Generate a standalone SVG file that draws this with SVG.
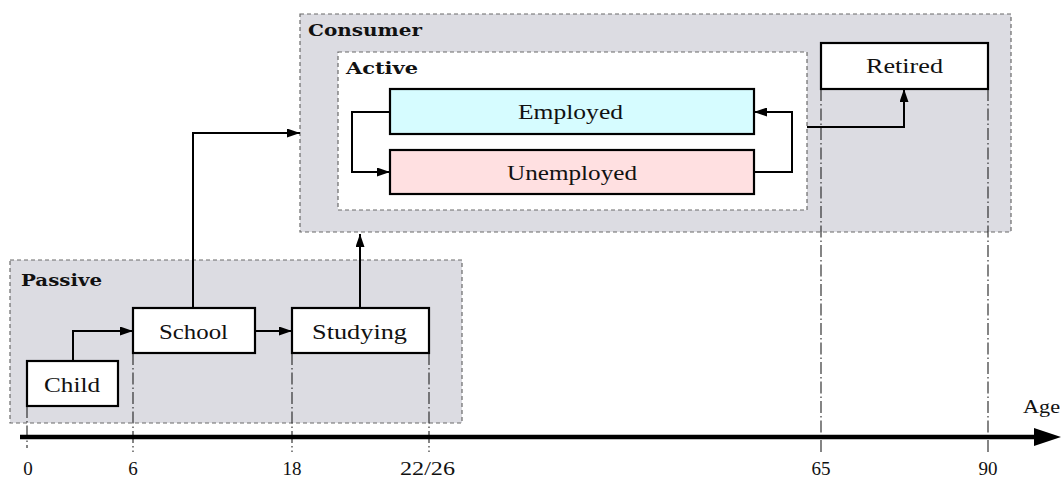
<svg xmlns="http://www.w3.org/2000/svg" width="1063" height="477" viewBox="0 0 1063 477">
<style>
.grp{fill:#dcdce2;stroke:#6a6a6a;stroke-width:1.2;stroke-dasharray:4,3}
.grpw{fill:#ffffff;stroke:#6a6a6a;stroke-width:1.2;stroke-dasharray:4,3}
.node{fill:#ffffff;stroke:#000;stroke-width:2.2}
.lbl{font-family:"Liberation Serif","DejaVu Serif",serif;font-size:21px;fill:#111}
.glbl{font-family:"DejaVu Serif","Liberation Serif",serif;font-weight:bold;font-size:17px;fill:#111}
.tick{font-family:"Liberation Serif","DejaVu Serif",serif;font-size:19px;fill:#111}
.conn{fill:none;stroke:#000;stroke-width:2;marker-end:url(#ah)}
.dd{stroke:#222;stroke-width:1.1;stroke-dasharray:12,3,1.5,3;fill:none}
</style>
<defs>
<marker id="ah" viewBox="0 0 13 9" refX="13" refY="4.5" markerWidth="13" markerHeight="9" markerUnits="userSpaceOnUse" orient="auto">
<path d="M0,0 L13,4.5 L0,9 Z" fill="#000"/>
</marker>
</defs>
<g id="consumer">
<rect class="grp" x="300" y="14" width="711" height="218"/>
<text class="glbl" x="308" y="36" textLength="114" lengthAdjust="spacingAndGlyphs">Consumer</text>
</g>
<g id="active">
<rect class="grpw" x="338" y="52" width="469" height="158"/>
<text class="glbl" x="346" y="74" textLength="72" lengthAdjust="spacingAndGlyphs">Active</text>
</g>
<g id="passive">
<rect class="grp" x="10" y="260" width="452" height="163"/>
<text class="glbl" x="21" y="286" textLength="81" lengthAdjust="spacingAndGlyphs">Passive</text>
</g>
<g id="guides">
<line class="dd" x1="27" y1="406" x2="27" y2="448"/>
<line class="dd" x1="133" y1="353" x2="133" y2="452"/>
<line class="dd" x1="292" y1="353" x2="292" y2="452"/>
<line class="dd" x1="429" y1="353" x2="429" y2="452"/>
<line class="dd" x1="821" y1="89" x2="821" y2="452"/>
<line class="dd" x1="988" y1="89" x2="988" y2="452"/>
</g>
<g id="employed">
<rect class="node" x="390" y="89" width="364" height="45" style="fill:#d6fcff"/>
<text class="lbl" x="518" y="119" textLength="105" lengthAdjust="spacingAndGlyphs">Employed</text>
</g>
<g id="unemployed">
<rect class="node" x="390" y="150" width="364" height="44" style="fill:#ffe0e1"/>
<text class="lbl" x="507" y="180" textLength="130" lengthAdjust="spacingAndGlyphs">Unemployed</text>
</g>
<g id="retired">
<rect class="node" x="821" y="43" width="167" height="46"/>
<text class="lbl" x="866" y="73" textLength="77" lengthAdjust="spacingAndGlyphs">Retired</text>
</g>
<g id="child">
<rect class="node" x="27" y="361" width="91" height="45"/>
<text class="lbl" x="44" y="392" textLength="56" lengthAdjust="spacingAndGlyphs">Child</text>
</g>
<g id="school">
<rect class="node" x="133" y="308" width="122" height="45"/>
<text class="lbl" x="159" y="339" textLength="69" lengthAdjust="spacingAndGlyphs">School</text>
</g>
<g id="studying">
<rect class="node" x="292" y="308" width="137" height="45"/>
<text class="lbl" x="312" y="339" textLength="95" lengthAdjust="spacingAndGlyphs">Studying</text>
</g>
<g id="connectors">
<path class="conn" d="M73,361 V331 H133"/>
<path class="conn" d="M255,331 H292"/>
<path class="conn" d="M193,308 V133 H300"/>
<path class="conn" d="M360,308 V234"/>
<path class="conn" d="M390,112 H352 V172 H390"/>
<path class="conn" d="M754,172 H792 V112 H754"/>
<path class="conn" d="M807,127 H904 V89"/>
</g>
<g id="axis">
<line x1="20" y1="437" x2="1036" y2="437" stroke="#000" stroke-width="4.5"/>
<path d="M1034,428 L1061,437 L1034,446 Z" fill="#000"/>
<text class="tick" x="1023" y="413" textLength="37" lengthAdjust="spacingAndGlyphs">Age</text>
<text class="tick" x="28" y="475" text-anchor="middle">0</text>
<text class="tick" x="133" y="475" text-anchor="middle">6</text>
<text class="tick" x="292" y="475" text-anchor="middle">18</text>
<text class="tick" x="400" y="475" textLength="55" lengthAdjust="spacingAndGlyphs">22/26</text>
<text class="tick" x="821" y="475" text-anchor="middle">65</text>
<text class="tick" x="988" y="475" text-anchor="middle">90</text>
</g>
</svg>
